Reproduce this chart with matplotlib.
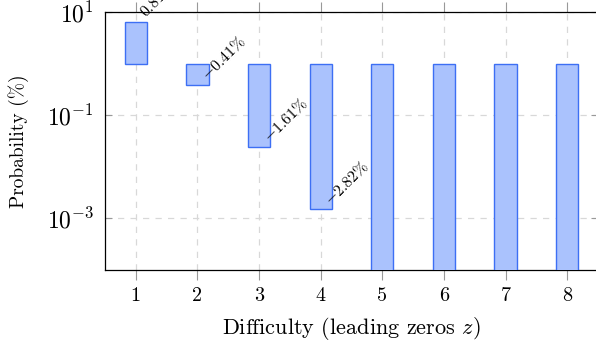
import matplotlib
matplotlib.use("Agg")
import matplotlib.pyplot as plt
import numpy as np

plt.rcParams['font.family'] = ['cmr10', 'DejaVu Serif']
plt.rcParams['mathtext.fontset'] = 'cm'
plt.rcParams['axes.formatter.use_mathtext'] = True
plt.rcParams['axes.unicode_minus'] = False

# Data
difficulty = [1, 2, 3, 4, 5, 6, 7, 8]
log_values = [0.81, -0.41, -1.61, -2.82, -6.0, -6.0, -6.0, -6.0]   # log10 of probability (%)
label_values = [0.81, -0.41, -1.61, -2.82, None, None, None, None]
xtick_labels = ['1', '2', '3', '4', '5', '6', '7', '8']
ytick_values = [1e1, 1e-1, 1e-3]

values = [10 ** v for v in log_values]

fig = plt.figure(figsize=(5.96, 3.5), dpi=100)
ax = fig.add_axes([105/596, (350-270)/350, (598-105)/596, (270-12)/350])

base = 1.0
ax.bar(difficulty, [v - base for v in values], bottom=base, width=0.36,
       color='#aac2fd', edgecolor='#3d6ff4', linewidth=1.0, zorder=3)

ax.set_yscale('log')
ax.set_ylim(1e-4, 1e1)
ax.set_xlim(0.5, 8.5)
ax.set_yticks(ytick_values)
ax.yaxis.set_minor_locator(matplotlib.ticker.NullLocator())
ax.set_xticks(difficulty)
ax.set_xticklabels(xtick_labels)

ax.grid(True, which='major', linestyle=(0, (5, 5)), color='#d8d8d8', linewidth=0.9, zorder=0)
ax.set_axisbelow(True)

ax.tick_params(axis='x', direction='out', length=7.5, width=0.8, color='#999999',
               top=True, labelsize=14.5, pad=5)
ax.tick_params(axis='y', direction='in', length=5, width=0.8, color='#999999',
               right=True, labelsize=17, pad=8)

for s in ax.spines.values():
    s.set_linewidth(0.9)
    s.set_color('black')

ax.set_xlabel('Difficulty (leading zeros $z$)', fontsize=16, labelpad=7)
ax.set_ylabel('Probability (%)', fontsize=14, labelpad=13)

for x, v, lab in zip(difficulty, values, label_values):
    if lab is None:
        continue
    txt = f'${lab:.2f}\\%$'
    ax.annotate(txt, xy=(x, v), xytext=(5, 5), textcoords='offset points',
                rotation=45, rotation_mode='anchor', ha='left', va='center',
                fontsize=11.5, annotation_clip=False, zorder=4)

fig.savefig('out.png', dpi=100)
